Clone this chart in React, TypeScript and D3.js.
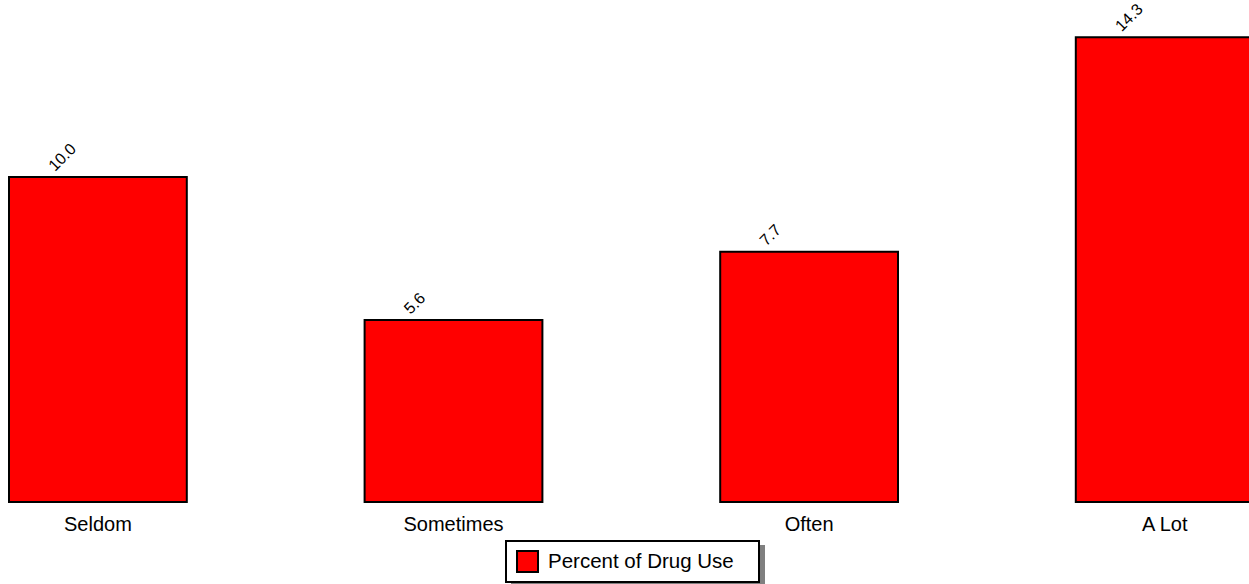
import { scaleBand, scaleLinear } from "d3";

const categories = ["Seldom", "Sometimes", "Often", "A Lot"];
const values = [10.0, 5.6, 7.7, 14.3];
const seriesName = "Percent of Drug Use";

const W = 1249;
const H = 584;
const FONT = "'Liberation Sans', Arial, sans-serif";

const App = () => {
  // step ~355.6px, bars ~178px wide, first bar starts at x=9
  const step = 355.6;
  const x = scaleBand<string>()
    .domain(categories)
    .range([9 - step * 0.25, 9 - step * 0.25 + step * 4])
    .paddingInner(0.5)
    .paddingOuter(0.25);
  const y = scaleLinear().domain([0, 15.4]).range([502, 502 - 15.4 * 32.5]);

  return (
    <svg
      width={W}
      height={H}
      style={{ position: "absolute", left: 0, top: 0, background: "white" }}
      fontFamily={FONT}
    >
      {categories.map((c, i) => {
        const x0 = x(c) as number;
        const top = y(values[i]);
        return (
          <g key={c}>
            <rect
              x={x0}
              y={top}
              width={x.bandwidth()}
              height={y(0) - top}
              fill="#ff0000"
              stroke="#000"
              strokeWidth={2}
            />
            <text
              transform={`translate(${x0 + 46}, ${top - 5}) rotate(-45)`}
              fontSize={16}
              fill="#000"
            >
              {values[i].toFixed(1)}
            </text>
            <text
              x={x0 + x.bandwidth() / 2}
              y={y(0) + 29}
              textAnchor="middle"
              fontSize={20}
              fill="#000"
            >
              {c}
            </text>
          </g>
        );
      })}
      {/* legend */}
      <rect x={511} y={545} width={254} height={40} fill="#808080" />
      <rect x={506} y={541} width={253} height={41} fill="#fff" stroke="#000" strokeWidth={2} />
      <rect x={517} y={551} width={21} height={21} fill="#ff0000" stroke="#000" strokeWidth={2} />
      <text x={548} y={568} fontSize={20.5} fill="#000">
        {seriesName}
      </text>
    </svg>
  );
};

export default App;
